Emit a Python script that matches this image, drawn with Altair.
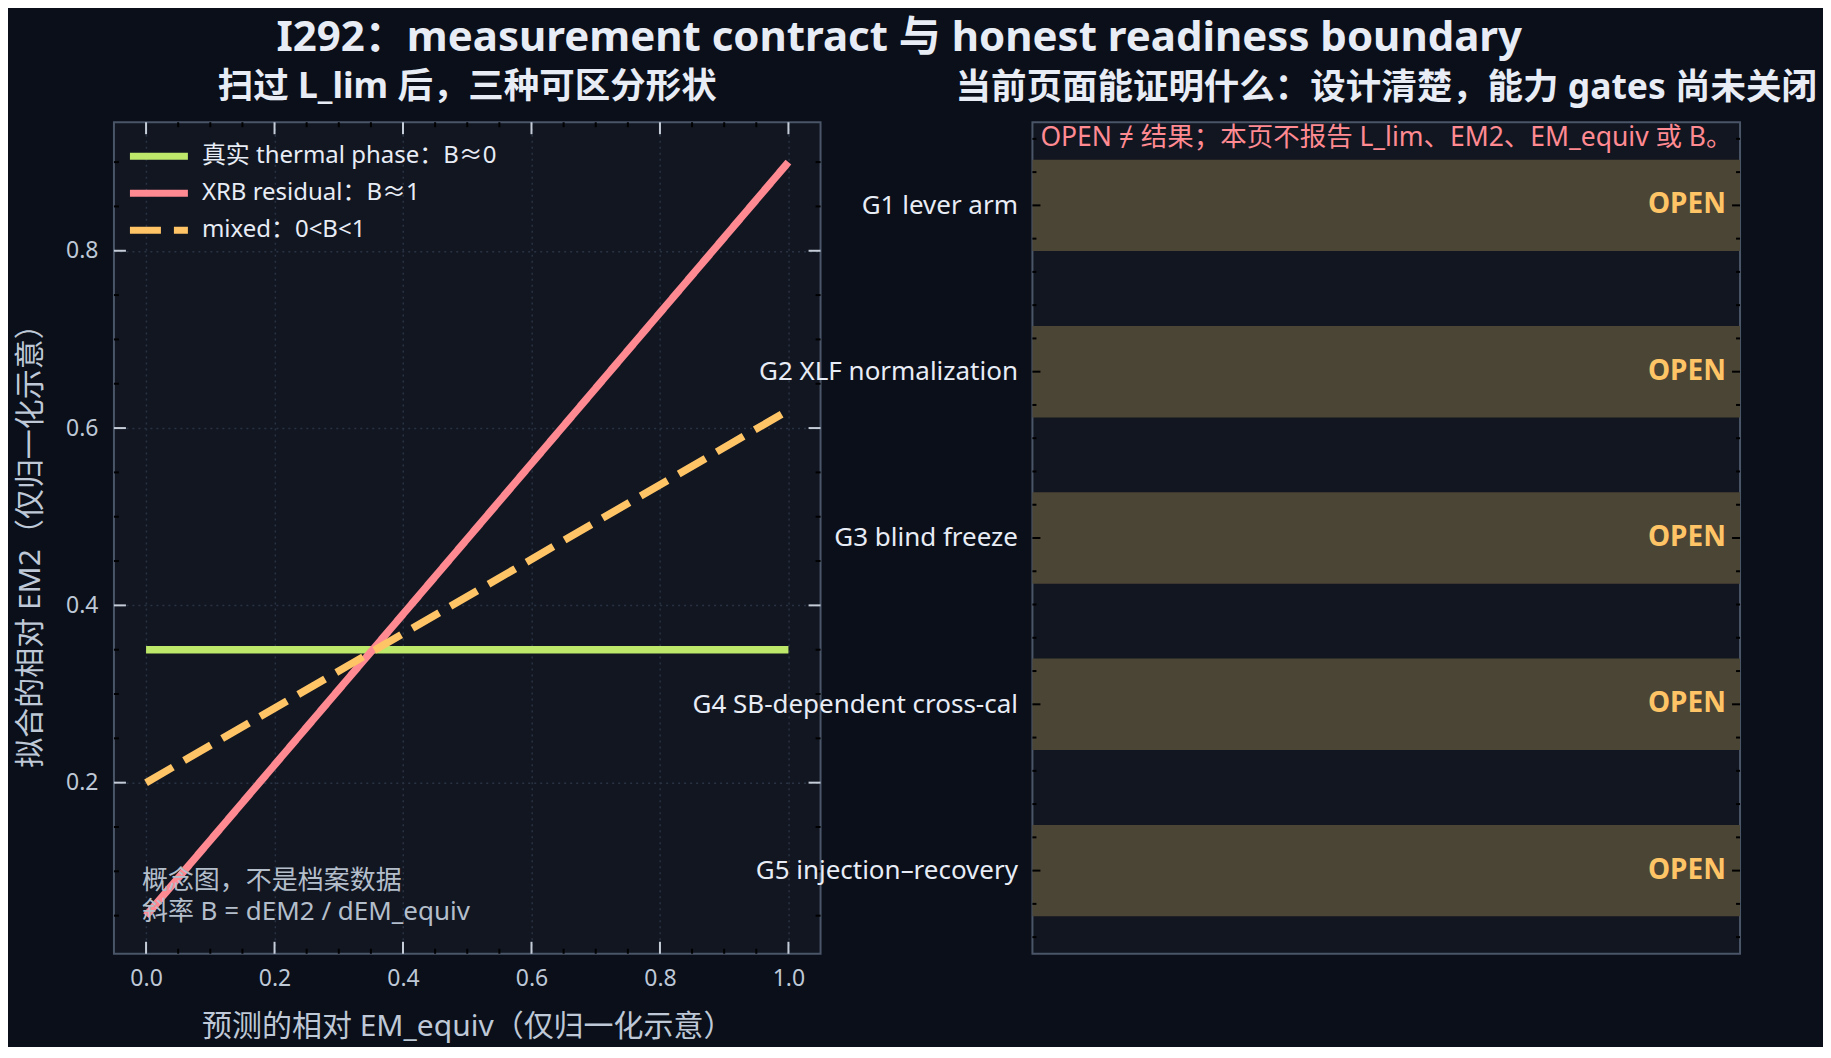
import json
import altair as alt
import pandas as pd

# ---------------- text ----------------
TITLE = "I292：measurement contract 与 honest readiness boundary"
LEFT_SUB = "扫过 L_lim 后，三种可区分形状"
RIGHT_SUB = "当前页面能证明什么：设计清楚，能力 gates 尚未关闭"
X_TITLE = "预测的相对 EM_equiv（仅归一化示意）"
Y_TITLE = "拟合的相对 EM2（仅归一化示意）"
NOTE_LINES = ["概念图，不是档案数据", "斜率 B = dEM2 / dEM_equiv"]
RIGHT_NOTE = "OPEN ≠ 结果；本页不报告 L_lim、EM2、EM_equiv 或 B。"

# ---------------- data ----------------
series_names = ["真实 thermal phase：B≈0", "XRB residual：B≈1", "mixed：0<B<1"]
series_colors = ["#bde86a", "#ff8a92", "#ffc466"]
series_dash = [[1, 0], [1, 0], [31, 13]]
x_ends = [0.0, 1.0]
thermal_y = [0.35, 0.35]
xrb_y = [0.05, 0.90]
mixed_y = [0.20, 0.62]

x_ticks = [0.0, 0.2, 0.4, 0.6, 0.8, 1.0]
y_ticks = [0.2, 0.4, 0.6, 0.8]
x_minor = [0.05, 0.1, 0.15, 0.25, 0.3, 0.35, 0.45, 0.5, 0.55, 0.65, 0.7, 0.75, 0.85, 0.9, 0.95]
y_minor = [0.05, 0.1, 0.15, 0.25, 0.3, 0.35, 0.45, 0.5, 0.55, 0.65, 0.7, 0.75, 0.85, 0.9]

gates = ["G1 lever arm", "G2 XLF normalization", "G3 blind freeze",
         "G4 SB-dependent cross-cal", "G5 injection–recovery"]
gate_status = ["OPEN", "OPEN", "OPEN", "OPEN", "OPEN"]
gate_ticks = [0, 1, 2, 3, 4]
gate_minor = [-0.4, -0.2, 0.2, 0.4, 0.6, 0.8, 1.2, 1.4, 1.6, 1.8, 2.2, 2.4, 2.6, 2.8,
              3.2, 3.4, 3.6, 3.8, 4.2, 4.4]

# ---------------- style ----------------
FONT = "Noto Sans, Noto Sans CJK SC, sans-serif"
BG = "#0a0f1a"
PANEL = "#111621"
FRAME = "#4a5668"
TEXT = "#e8ecf5"
MUTED = "#bec8d6"
GRID = "#2a3344"
BAND = "#4b4535"
OPEN_C = "#ffc466"
NOTE_RED = "#ff8a92"
MAJOR_TICK = "#c5cdd9"

LW, LH = 707, 832
RW, RH = 708, 832

rows = []
for name, ys in zip(series_names, [thermal_y, xrb_y, mixed_y]):
    for xv, yv in zip(x_ends, ys):
        rows.append({"series": name, "x": xv, "y": yv})
line_df = pd.DataFrame(rows)

xscale = alt.Scale(domain=[-0.05, 1.05], nice=False, zero=False)
yscale = alt.Scale(domain=[0.007, 0.945], nice=False, zero=False)

# wide, flat legend stroke: path spans +-2 units, unit = sqrt(size)/2
legend = alt.Legend(
    title=None, orient="none", legendX=27, legendY=16,
    symbolType="M-2,0H2", symbolStrokeWidth=7, symbolSize=841,
    labelFontSize=24, labelColor=TEXT, labelFont=FONT, labelOffset=25,
    rowPadding=5, padding=0, labelLimit=600,
)

base = alt.Chart(line_df).mark_line(strokeWidth=7.5, strokeCap="butt").encode(
    x=alt.X("x:Q", scale=xscale, title=X_TITLE,
            axis=alt.Axis(values=x_ticks, format=".1f", grid=True,
                          labelPadding=14, titlePadding=20.5)),
    y=alt.Y("y:Q", scale=yscale, title=Y_TITLE,
            axis=alt.Axis(values=y_ticks, format=".1f", grid=True,
                          labelPadding=16, titlePadding=20)),
    color=alt.Color("series:N", scale=alt.Scale(domain=series_names, range=series_colors),
                    legend=legend),
    strokeDash=alt.StrokeDash("series:N", scale=alt.Scale(domain=series_names, range=series_dash),
                              legend=legend),
)
line_layers = [base.transform_filter(alt.datum.series == n) for n in series_names]


def x_tick_rules(vals, length, color):
    c = alt.Chart(pd.DataFrame({"x": vals}))
    b = c.mark_rule(color=color, strokeWidth=2).encode(
        x=alt.X("x:Q", title=X_TITLE), y=alt.value(LH), y2=alt.value(LH - length))
    t = c.mark_rule(color=color, strokeWidth=2).encode(
        x=alt.X("x:Q", title=X_TITLE), y=alt.value(0), y2=alt.value(length))
    return [b, t]


def y_tick_rules(vals, length, color, title, W):
    c = alt.Chart(pd.DataFrame({"y": vals}))
    l = c.mark_rule(color=color, strokeWidth=2).encode(
        y=alt.Y("y:Q", title=title), x=alt.value(0), x2=alt.value(length))
    r = c.mark_rule(color=color, strokeWidth=2).encode(
        y=alt.Y("y:Q", title=title), x=alt.value(W), x2=alt.value(W - length))
    return [l, r]


left_ticks = (x_tick_rules(x_ticks, 12, MAJOR_TICK) + x_tick_rules(x_minor, 5, "#000000")
              + y_tick_rules(y_ticks, 12, MAJOR_TICK, Y_TITLE, LW)
              + y_tick_rules(y_minor, 5, "#000000", Y_TITLE, LW))

note = alt.Chart(pd.DataFrame({"a": [0]})).mark_text(
    text=NOTE_LINES, align="left", baseline="bottom", fontSize=26, font=FONT,
    color="#b4becb", lineHeight=31,
).encode(x=alt.value(28), y=alt.value(772))

left = alt.layer(*line_layers, *left_ticks, note).properties(
    width=LW, height=LH,
    title=alt.TitleParams(LEFT_SUB, fontSize=35.5, fontWeight="bold", color=TEXT,
                          font=FONT, anchor="middle", offset=16),
)

# ---------------- right panel ----------------
band_df = pd.DataFrame({"gate": gates, "idx": list(range(len(gates))), "status": gate_status})
gscale = alt.Scale(domain=[-0.5, 4.5], reverse=True, nice=False, zero=False)
gx = alt.Scale(domain=[0, 1], nice=False, zero=False)
label_expr = json.dumps(gates, ensure_ascii=False) + "[datum.value]"

bands = alt.Chart(band_df).transform_calculate(
    y0="datum.idx - 0.275", y1="datum.idx + 0.275"
).mark_rect(color=BAND).encode(
    x=alt.X(datum=0, type="quantitative", scale=gx, axis=None),
    x2=alt.X2(datum=1),
    y=alt.Y("y0:Q", scale=gscale, title=None,
            axis=alt.Axis(values=gate_ticks, labelExpr=label_expr, grid=False,
                          labelColor=TEXT, labelFontSize=26, labelPadding=15,
                          labelLimit=600)),
    y2="y1:Q",
)

opens = alt.Chart(band_df).mark_text(
    align="right", baseline="middle", fontSize=28, fontWeight="bold", font=FONT, color=OPEN_C
).encode(
    x=alt.X(datum=0.98, type="quantitative", scale=gx, axis=None),
    y=alt.Y("idx:Q", title=None),
    text="status:N",
)


def g_tick_rules(vals, length):
    c = alt.Chart(pd.DataFrame({"g": vals}))
    l = c.mark_rule(color="#000000", strokeWidth=2).encode(
        y=alt.Y("g:Q", title=None), x=alt.value(0), x2=alt.value(length))
    r = c.mark_rule(color="#000000", strokeWidth=2).encode(
        y=alt.Y("g:Q", title=None), x=alt.value(RW), x2=alt.value(RW - length))
    return [l, r]


right_note = alt.Chart(pd.DataFrame({"a": [0]})).mark_text(
    text=RIGHT_NOTE, align="left", baseline="middle", fontSize=26.5, font=FONT, color=NOTE_RED
).encode(x=alt.value(8), y=alt.value(16))

right = alt.layer(bands, *g_tick_rules(gate_ticks, 8), *g_tick_rules(gate_minor, 4),
                  opens, right_note).properties(
    width=RW, height=RH,
    title=alt.TitleParams(RIGHT_SUB, fontSize=35.5, fontWeight="bold", color=TEXT,
                          font=FONT, anchor="middle", offset=16),
)

chart = alt.hconcat(left, right, spacing=212, bounds="flush").properties(
    title=alt.TitleParams(TITLE, fontSize=42, fontWeight="bold", color=TEXT, font=FONT,
                          anchor="middle", offset=9, dx=-17),
    background=BG,
    padding={"left": 6, "top": 8, "right": 4, "bottom": 4},
).configure_view(
    fill=PANEL, stroke=FRAME, strokeWidth=2,
).configure_axis(
    labelFont=FONT, titleFont=FONT, labelColor=MUTED, titleColor=MUTED,
    labelFontSize=23, titleFontSize=30, titleFontWeight="normal",
    domain=False, ticks=False, gridColor=GRID, gridDash=[2, 4], gridWidth=1.5,
).configure_title(font=FONT, color=TEXT)

chart.save("out.html", embed_options={"renderer": "svg", "actions": False})
